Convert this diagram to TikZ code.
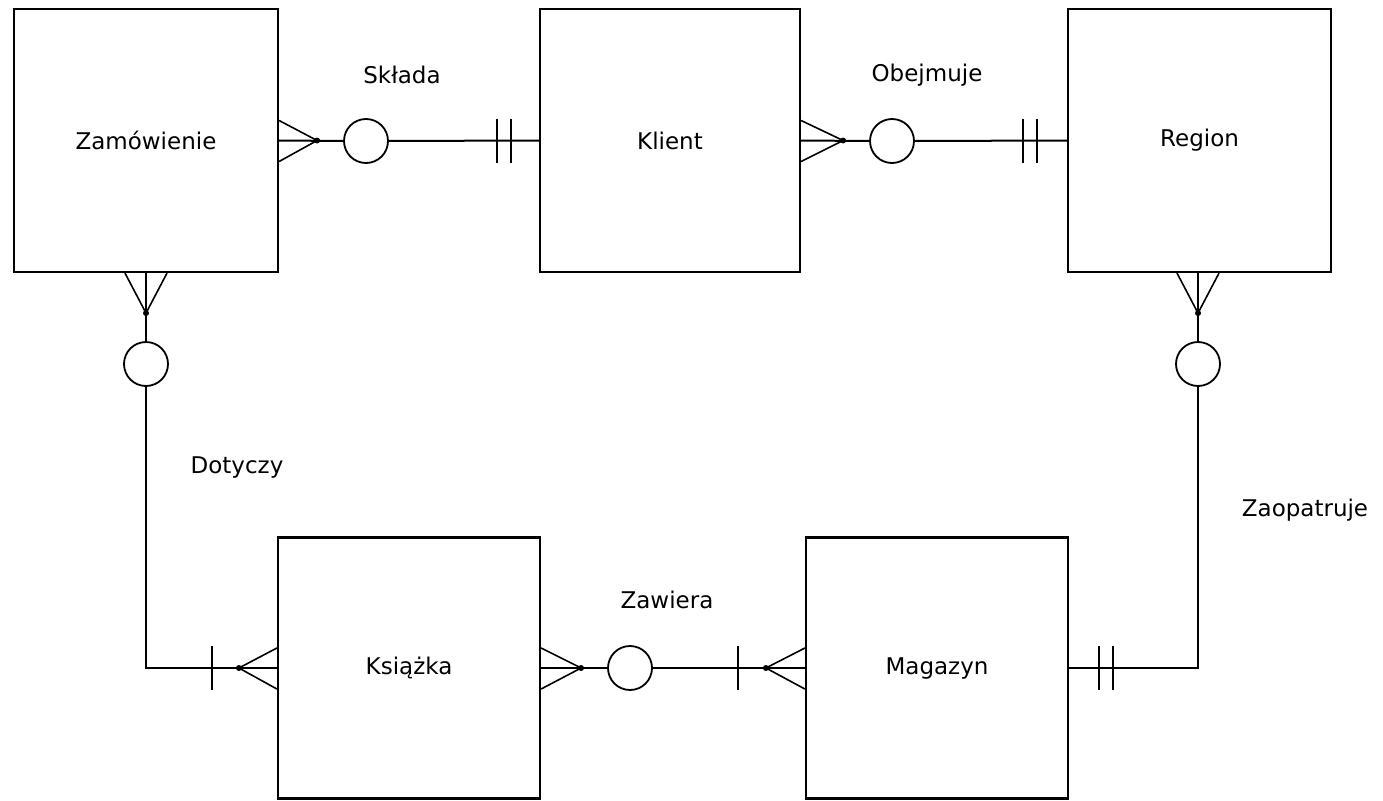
\documentclass[tikz,border=0pt]{standalone}
\usepackage{fontspec}
\setmainfont{DejaVu Sans}
\usetikzlibrary{calc}
\begin{document}
\begin{tikzpicture}[x=1pt,y=-1pt,line width=2pt,
  ent/.style={draw,line width=2.2pt,minimum width=#1,inner sep=0pt,font=\fontsize{23}{27}\selectfont},
  lbl/.style={font=\fontsize{23}{27}\selectfont,inner sep=0pt},
  circ/.style={draw,circle,minimum size=44pt,inner sep=0pt,fill=white,line width=1.8pt},
  crow/.style={line width=1.6pt},
  tick/.style={line width=2pt}]
\useasboundingbox (0,0) rectangle (1383,800);
% entities
\node[ent=264pt,minimum height=263pt] (Z) at (146,140.5) {Zamówienie};
\node[ent=260pt,minimum height=263pt] (K) at (670,140.5) {Klient};
\node[ent=263pt,minimum height=263pt] (R) at (1199.5,140.5) {Region};
\node[ent=262pt,minimum height=261pt] (B) at (409,668) {Książka};
\node[ent=262pt,minimum height=261pt] (M) at (937,668) {Magazyn};
% labels
\node[lbl] (l1) at (402,75) {Składa};
\node[lbl] (l2) at (927,75) {Obejmuje};
\node[lbl] (l3) at (237,468) {Dotyczy};
\node[lbl] (l4) at (1305,510) {Zaopatruje};
\node[lbl] (l5) at (667,600) {Zawiera};
% circles
\node[circ] (c1) at (366,141) {};
\node[circ] (c2) at (892,141) {};
\node[circ] (c3) at (146,364) {};
\node[circ] (c4) at (630,668) {};
\node[circ] (c5) at (1198,364) {};
% connector Z - K
\draw (Z.east) -- (c1.west);
\draw (c1.east) -- (K.west);
\draw[crow] ($(Z.east)+(0,-20)$) -- ($(Z.east)+(38,0)$) -- ($(Z.east)+(0,21)$);
\fill ($(Z.east)+(38,0)$) circle (3pt);
\draw[tick] ($(K.west)+(-42,-22)$) -- ($(K.west)+(-42,22)$);
\draw[tick] ($(K.west)+(-28,-22)$) -- ($(K.west)+(-28,22)$);
% connector K - R
\draw (K.east) -- (c2.west);
\draw (c2.east) -- (R.west);
\draw[crow] ($(K.east)+(0,-20)$) -- ($(K.east)+(42,0)$) -- ($(K.east)+(0,21)$);
\fill ($(K.east)+(42,0)$) circle (3pt);
\draw[tick] ($(R.west)+(-44,-22)$) -- ($(R.west)+(-44,22)$);
\draw[tick] ($(R.west)+(-30,-22)$) -- ($(R.west)+(-30,22)$);
% connector Z - B
\draw (Z.south) -- (c3.north);
\draw (c3.south) |- (B.west);
\draw[crow] ($(Z.south)+(-21,0)$) -- ($(Z.south)+(0,40)$) -- ($(Z.south)+(21,0)$);
\fill ($(Z.south)+(0,40)$) circle (3pt);
\draw[tick] ($(B.west)+(-65,-22)$) -- ($(B.west)+(-65,22)$);
\draw[crow] ($(B.west)+(0,-20)$) -- ($(B.west)+(-38,0)$) -- ($(B.west)+(0,21)$);
\fill ($(B.west)+(-38,0)$) circle (3pt);
% connector B - M
\draw (B.east) -- (c4.west);
\draw (c4.east) -- (M.west);
\draw[crow] ($(B.east)+(0,-20)$) -- ($(B.east)+(40,0)$) -- ($(B.east)+(0,21)$);
\fill ($(B.east)+(40,0)$) circle (3pt);
\draw[tick] ($(M.west)+(-67,-22)$) -- ($(M.west)+(-67,22)$);
\draw[crow] ($(M.west)+(0,-20)$) -- ($(M.west)+(-39,0)$) -- ($(M.west)+(0,21)$);
\fill ($(M.west)+(-39,0)$) circle (3pt);
% connector M - R
\draw (M.east) -| (c5.south);
\coordinate (rs) at (c5.north |- R.south);
\draw (c5.north) -- (rs);
\draw[crow] ($(rs)+(-21,0)$) -- ($(rs)+(0,40)$) -- ($(rs)+(21,0)$);
\fill ($(rs)+(0,40)$) circle (3pt);
\draw[tick] ($(M.east)+(30,-22)$) -- ($(M.east)+(30,22)$);
\draw[tick] ($(M.east)+(44,-22)$) -- ($(M.east)+(44,22)$);
\end{tikzpicture}
\end{document}
